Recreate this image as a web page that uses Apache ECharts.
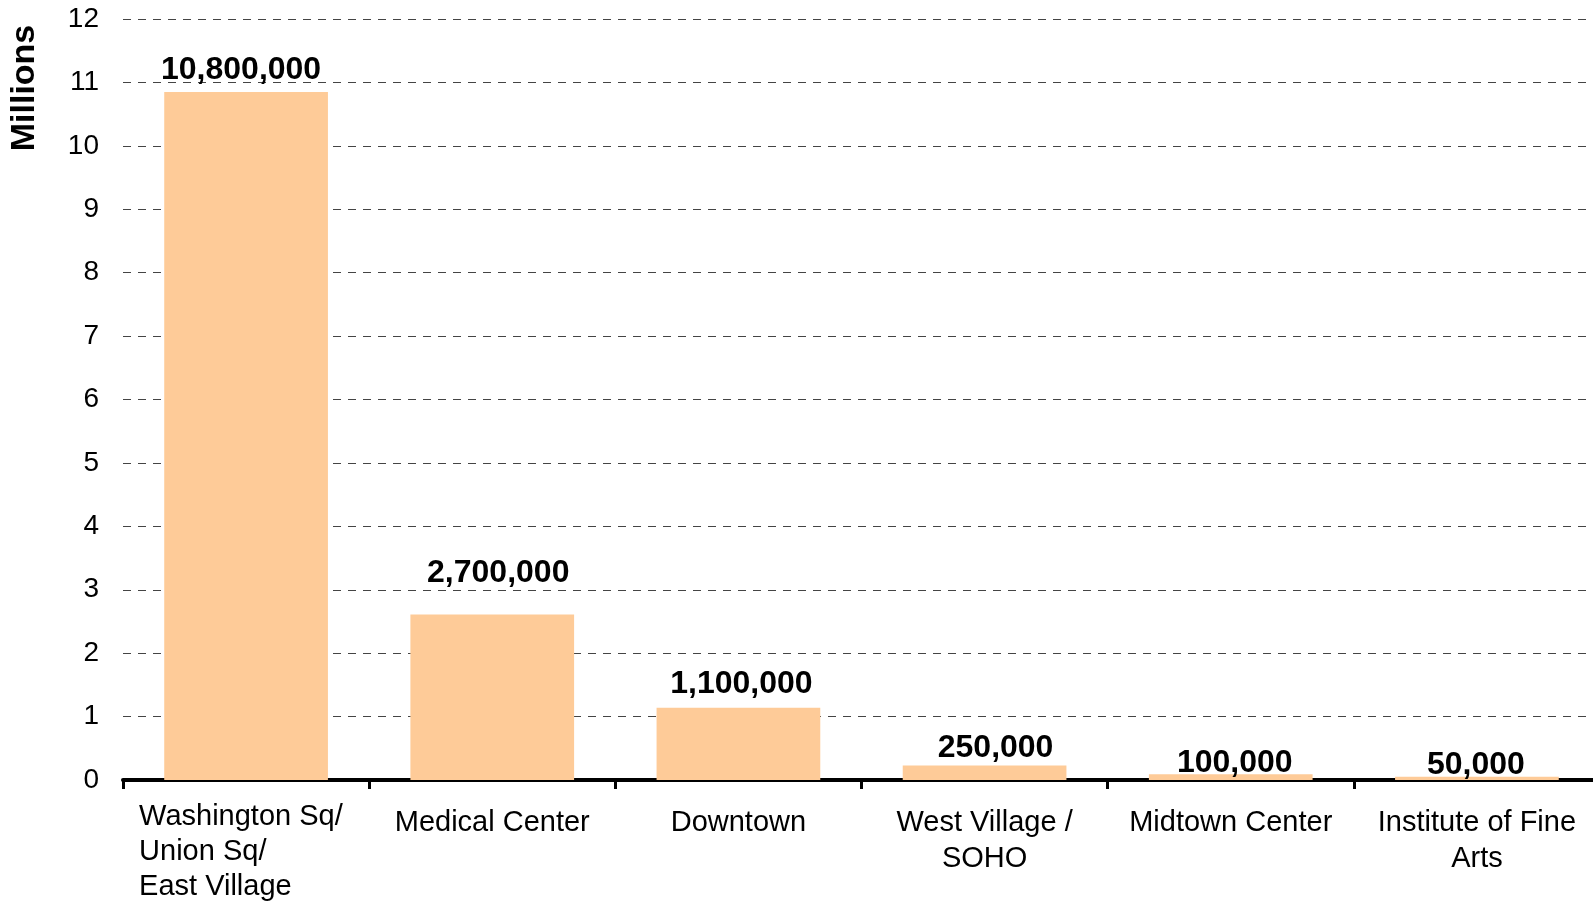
<!DOCTYPE html>
<html>
<head>
<meta charset="utf-8">
<script src="https://cdn.jsdelivr.net/npm/echarts@6/dist/echarts.min.js"></script>
<style>
  html, body { margin: 0; padding: 0; background: #fff; }
  #chart { width: 1593px; height: 901px; }
</style>
</head>
<body>
<div id="chart"></div>
<script>
// campus areas
const categories = [
  'Washington Sq/\nUnion Sq/\nEast Village',
  'Medical Center',
  'Downtown',
  'West Village /\nSOHO',
  'Midtown Center',
  'Institute of Fine\nArts'
]
// bar heights (millions)
const values = [10.85, 2.61, 1.14, 0.23, 0.09, 0.05]
// printed labels above the bars
const valueLabels = ['10,800,000', '2,700,000', '1,100,000', '250,000', '100,000', '50,000']
const yTicks = [0, 12, 1]   // min, max, step

// small nudges so labels sit where the original put them
const labelNudge = [[-5, -6], [6, -25], [3, -8], [11, -1], [4, 5], [-1, 4]]

const FONT = 'Arial, "Liberation Sans", sans-serif'

const chart = echarts.init(document.getElementById('chart'))

const option = {
  backgroundColor: '#fff',
  animation: false,
  grid: {
    left: 123,
    top: 19,
    width: 1477,
    height: 761,
    containLabel: false,
    outerBoundsMode: 'none'
  },
  xAxis: {
    type: 'category',
    data: categories,
    axisLine: { lineStyle: { color: '#000', width: 4 } },
    axisTick: {
      show: true,
      interval: 0,
      length: 9,
      lineStyle: { color: '#000', width: 3 }
    },
    axisLabel: {
      interval: 0,
      margin: 19,
      color: '#000',
      fontFamily: FONT,
      fontSize: 29,
      lineHeight: 36,
      formatter: function (val, idx) {
        const lines = val.split('\n')
        if (idx === 0) {
          // first one is left aligned and sits a little higher
          return lines.map(s => '{l|' + s + '}').join('\n')
        }
        return lines.map((s, i) => (i === 0 ? '{c1|' : '{c|') + s + '}').join('\n')
      },
      rich: {
        l: {
          width: 214,
          align: 'left',
          fontFamily: FONT,
          fontSize: 29,
          lineHeight: 35,
          color: '#000'
        },
        c1: {
          fontFamily: FONT,
          fontSize: 29,
          lineHeight: 42,
          padding: [6, 0, 0, 0],
          color: '#000'
        },
        c: {
          fontFamily: FONT,
          fontSize: 29,
          lineHeight: 36,
          color: '#000'
        }
      }
    }
  },
  yAxis: {
    type: 'value',
    min: yTicks[0],
    max: yTicks[1],
    interval: yTicks[2],
    axisLine: { show: false },
    axisTick: { show: false },
    axisLabel: {
      margin: 24,
      color: '#000',
      fontFamily: FONT,
      fontSize: 28
    },
    splitLine: {
      lineStyle: { color: '#444', width: 1.2, type: [8, 7] }
    }
  },
  graphic: [
    {
      type: 'text',
      x: 25,
      y: 88,
      rotation: Math.PI / 2,
      style: {
        text: 'Millions',
        font: 'bold 34px ' + FONT,
        fill: '#000',
        textAlign: 'center',
        textVerticalAlign: 'middle'
      }
    }
  ],
  series: [
    {
      type: 'bar',
      barWidth: '66.5%',
      itemStyle: { color: '#FECB98' },
      data: values.map((v, i) => ({
        value: v,
        label: { offset: labelNudge[i] }
      })),
      label: {
        show: true,
        position: 'top',
        distance: 0,
        color: '#000',
        fontFamily: FONT,
        fontWeight: 'bold',
        fontSize: 32,
        formatter: p => valueLabels[p.dataIndex]
      },
      z: 1
    }
  ]
}

option && chart.setOption(option)
</script>
</body>
</html>
